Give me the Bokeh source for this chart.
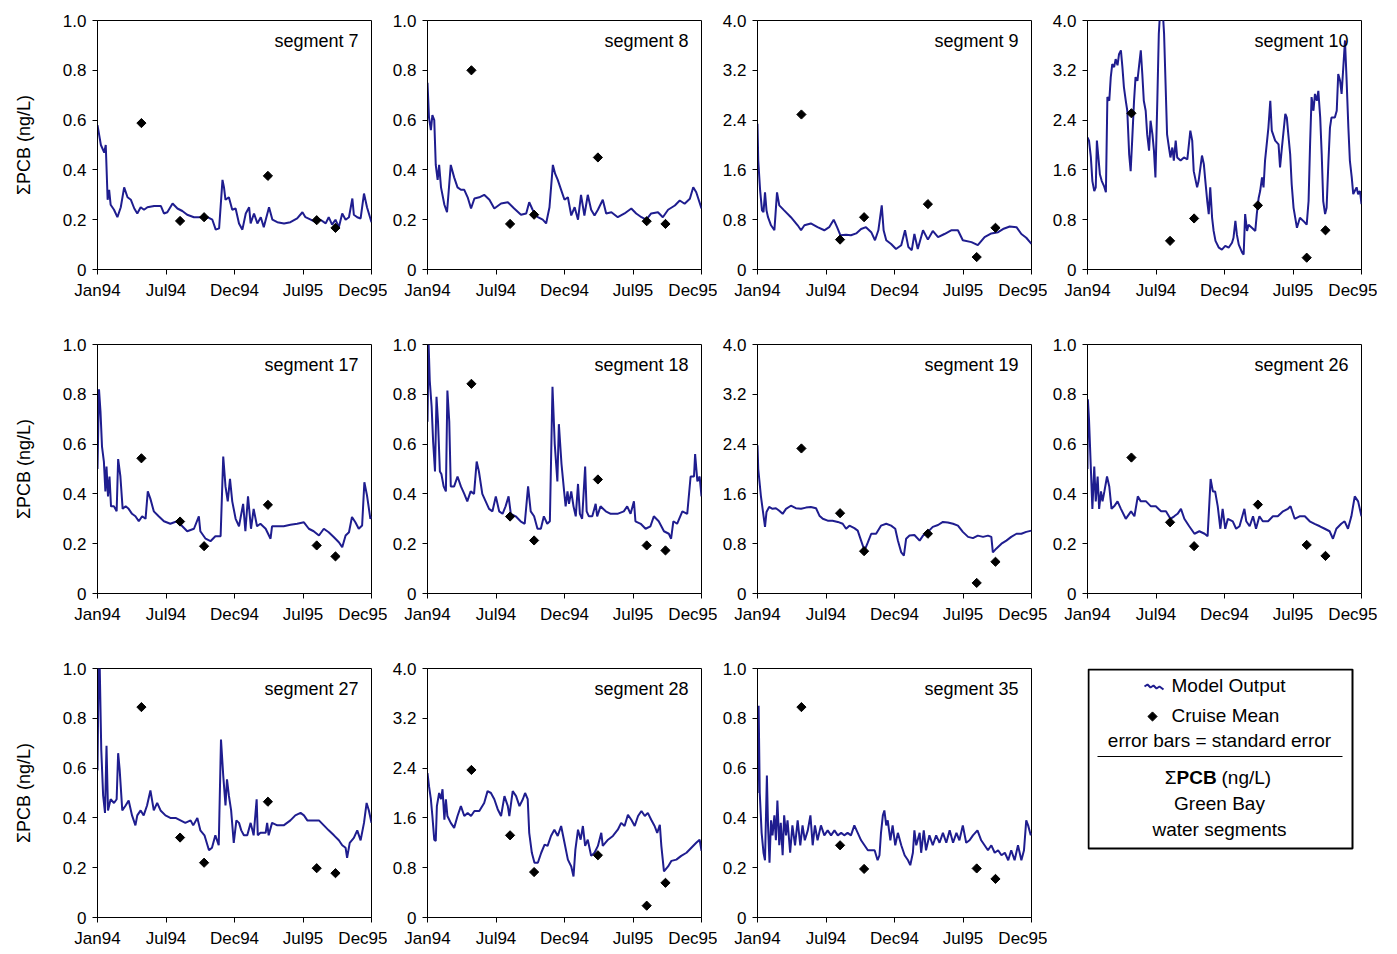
from math import pi
from bokeh.plotting import figure
from bokeh.layouts import row, column
from bokeh.models import Range1d, FixedTicker, Label, PrintfTickFormatter
from bokeh.embed import file_html
from bokeh.resources import INLINE

# ---------------- data ----------------
X_TICKS = [0, 182.5, 365, 547.5, 730]
X_TICK_LABELS = ["Jan94", "Jul94", "Dec94", "Jul95", "Dec95"]
CRUISE_DAYS = [117, 220, 284, 454, 584, 634]

SEG7_DAYS = [0, 9, 18, 22, 27, 31, 35, 44, 53, 62, 71, 80, 89, 98, 106, 115, 124, 133, 151, 169,
             177, 186, 200, 213, 226, 239, 257, 293, 306, 315, 324, 333, 337, 341, 350, 359, 368, 377, 386, 395,
             404, 408, 417, 426, 435, 443, 457, 466, 479, 497, 514, 532, 546, 554, 568, 581, 594, 608, 616, 625,
             634, 643, 652, 661, 670, 679, 683, 692, 701, 710, 718, 730]
SEG7_PCB = [0.58, 0.50, 0.47, 0.50, 0.28, 0.32, 0.26, 0.24, 0.21, 0.25, 0.33, 0.29, 0.28, 0.245, 0.225, 0.25, 0.24, 0.25, 0.255, 0.255,
            0.225, 0.23, 0.265, 0.245, 0.235, 0.22, 0.21, 0.21, 0.20, 0.16, 0.165, 0.36, 0.33, 0.28, 0.29, 0.24, 0.245, 0.185, 0.16, 0.225,
            0.25, 0.185, 0.225, 0.185, 0.21, 0.17, 0.25, 0.20, 0.19, 0.185, 0.19, 0.205, 0.23, 0.21, 0.20, 0.19, 0.20, 0.185, 0.21, 0.18,
            0.20, 0.17, 0.225, 0.20, 0.21, 0.285, 0.22, 0.21, 0.205, 0.305, 0.25, 0.19]
SEG7_CRUISE = [0.588, 0.195, 0.21, 0.376, 0.198, 0.167]

SEG8_DAYS = [0, 4, 9, 13, 18, 22, 27, 31, 36, 45, 52, 62, 71, 80, 89, 98, 107, 116, 125, 138,
             151, 165, 178, 196, 214, 231, 249, 263, 271, 280, 294, 307, 316, 325, 334, 340, 347, 356, 365, 374,
             383, 392, 401, 409, 418, 427, 436, 445, 454, 467, 476, 490, 507, 525, 543, 556, 570, 583, 596, 614,
             627, 641, 659, 672, 685, 699, 708, 716, 730]
SEG8_PCB = [0.75, 0.61, 0.56, 0.62, 0.60, 0.42, 0.36, 0.42, 0.33, 0.26, 0.23, 0.42, 0.37, 0.33, 0.32, 0.32, 0.29, 0.245, 0.285, 0.29,
            0.30, 0.28, 0.245, 0.265, 0.27, 0.245, 0.22, 0.225, 0.27, 0.24, 0.21, 0.20, 0.185, 0.25, 0.42, 0.385, 0.36, 0.32, 0.28, 0.29,
            0.217, 0.25, 0.20, 0.30, 0.217, 0.30, 0.24, 0.217, 0.24, 0.28, 0.225, 0.23, 0.21, 0.225, 0.245, 0.225, 0.21, 0.20, 0.225, 0.23,
            0.21, 0.24, 0.257, 0.277, 0.264, 0.284, 0.33, 0.31, 0.245]
SEG8_CRUISE = [0.80, 0.183, 0.22, 0.45, 0.194, 0.183]

SEG9_DAYS = [0, 2, 7, 12, 16, 20, 24, 28, 36, 45, 52, 58, 71, 89, 107, 116, 125, 142, 160, 178,
             191, 203, 212, 221, 236, 249, 263, 276, 289, 303, 313, 322, 331, 336, 343, 356, 369, 383, 393, 402,
             411, 418, 427, 441, 454, 467, 481, 498, 516, 534, 547, 570, 587, 605, 623, 641, 654, 672, 690, 703,
             716, 730]
SEG9_PCB = [2.34, 1.75, 1.27, 0.95, 0.92, 1.24, 0.95, 0.84, 0.71, 0.63, 1.24, 1.03, 0.95, 0.84, 0.71, 0.63, 0.71, 0.74, 0.68, 0.63,
            0.68, 0.80, 0.68, 0.55, 0.56, 0.55, 0.58, 0.65, 0.68, 0.60, 0.47, 0.63, 1.03, 0.63, 0.47, 0.41, 0.33, 0.39, 0.63, 0.36,
            0.31, 0.57, 0.33, 0.63, 0.48, 0.62, 0.52, 0.57, 0.63, 0.63, 0.47, 0.44, 0.39, 0.52, 0.58, 0.60, 0.65, 0.69, 0.68, 0.57,
            0.51, 0.41]
SEG9_CRUISE = [2.49, 0.48, 0.84, 1.05, 0.20, 0.67]

SEG10_DAYS = [0, 4, 9, 13, 18, 22, 25, 29, 33, 38, 44, 49, 53, 58, 62, 66, 71, 75, 80, 84,
              89, 93, 97, 102, 106, 111, 115, 119, 124, 128, 133, 137, 142, 146, 150, 155, 159, 164, 168, 173,
              177, 181, 186, 190, 195, 199, 204, 208, 212, 217, 221, 226, 230, 235, 239, 248, 257, 266, 274, 279,
              283, 292, 296, 305, 310, 314, 319, 323, 327, 332, 336, 341, 350, 358, 367, 376, 385, 389, 394, 398,
              403, 412, 416, 420, 425, 429, 438, 447, 451, 456, 460, 465, 469, 473, 482, 487, 491, 500, 509, 513,
              518, 527, 531, 535, 540, 544, 549, 558, 566, 575, 584, 589, 593, 597, 602, 606, 611, 615, 620, 624,
              628, 633, 637, 642, 646, 650, 659, 664, 668, 673, 677, 681, 686, 690, 695, 699, 704, 708, 712, 717,
              721, 726, 730]
SEG10_PCB = [2.12, 2.07, 1.80, 1.42, 1.26, 1.32, 2.07, 1.80, 1.53, 1.42, 1.34, 1.24, 2.77, 2.71, 3.09, 3.30, 3.25, 3.38, 3.28, 3.46,
             3.52, 3.25, 2.93, 2.71, 2.55, 1.85, 1.58, 2.07, 2.71, 3.09, 3.03, 3.25, 3.52, 3.14, 2.71, 2.55, 2.17, 1.91, 2.39, 2.17,
             1.91, 1.48, 2.71, 3.79, 4.30, 4.30, 3.79, 2.98, 2.17, 1.96, 1.80, 1.96, 1.75, 2.07, 1.80, 1.75, 1.80, 1.77, 2.23, 2.07,
             1.58, 1.32, 1.42, 1.83, 1.69, 1.42, 1.10, 0.89, 1.32, 0.83, 0.62, 0.46, 0.35, 0.32, 0.38, 0.35, 0.43, 0.51, 0.78, 0.56,
             0.40, 0.27, 0.24, 0.89, 0.62, 0.72, 0.67, 0.62, 0.89, 1.15, 1.26, 1.48, 1.32, 1.75, 2.28, 2.71, 2.23, 2.07, 2.01, 1.64,
             1.96, 2.50, 2.44, 2.17, 1.85, 1.37, 0.99, 0.67, 0.83, 0.78, 0.72, 1.10, 2.01, 2.77, 2.55, 2.82, 2.71, 2.87, 2.44, 1.85,
             1.10, 0.89, 0.99, 1.75, 2.28, 2.44, 2.44, 2.55, 3.14, 3.03, 2.82, 3.20, 3.68, 3.09, 2.28, 1.75, 1.48, 1.21, 1.26, 1.32,
             1.21, 1.26, 1.05]
SEG10_CRUISE = [2.51, 0.46, 0.82, 1.03, 0.19, 0.63]

SEG17_DAYS = [0, 4, 8, 12, 17, 21, 24, 28, 32, 36, 44, 51, 55, 61, 67, 75, 83, 92, 101, 110,
              119, 128, 134, 141, 150, 163, 177, 194, 212, 226, 239, 257, 270, 274, 288, 301, 314, 328, 335, 341,
              347, 353, 359, 368, 377, 388, 394, 401, 409, 416, 425, 434, 448, 461, 465, 479, 496, 514, 532, 550,
              563, 576, 590, 603, 616, 630, 643, 652, 661, 670, 678, 687, 696, 705, 711, 718, 727, 730]
SEG17_PCB = [0.50, 0.82, 0.73, 0.59, 0.53, 0.41, 0.51, 0.39, 0.47, 0.35, 0.35, 0.33, 0.54, 0.47, 0.34, 0.35, 0.34, 0.32, 0.31, 0.29,
             0.31, 0.30, 0.41, 0.38, 0.33, 0.31, 0.29, 0.28, 0.29, 0.27, 0.25, 0.26, 0.31, 0.25, 0.22, 0.21, 0.23, 0.23, 0.55, 0.43,
             0.37, 0.46, 0.37, 0.30, 0.27, 0.36, 0.25, 0.39, 0.26, 0.34, 0.27, 0.28, 0.26, 0.22, 0.27, 0.27, 0.27, 0.276, 0.28, 0.286,
             0.26, 0.25, 0.233, 0.26, 0.246, 0.226, 0.206, 0.186, 0.233, 0.246, 0.307, 0.286, 0.26, 0.273, 0.447, 0.394, 0.30, 0.31]
SEG17_CRUISE = [0.543, 0.289, 0.19, 0.356, 0.193, 0.149]

SEG18_DAYS = [0, 3, 6, 11, 15, 20, 24, 28, 33, 37, 43, 49, 53, 58, 62, 71, 80, 89, 98, 106,
              115, 124, 131, 137, 146, 155, 164, 173, 182, 191, 200, 208, 216, 222, 235, 248, 259, 268, 275, 284,
              293, 302, 310, 319, 326, 333, 339, 346, 350, 357, 364, 368, 373, 377, 383, 389, 395, 401, 406, 412,
              420, 424, 430, 439, 448, 452, 461, 475, 488, 506, 523, 532, 541, 550, 554, 568, 581, 594, 603, 616,
              630, 643, 649, 655, 665, 679, 692, 701, 710, 713, 719, 725, 730]
SEG18_PCB = [0.69, 1.0, 0.855, 0.75, 0.61, 0.49, 0.79, 0.69, 0.49, 0.48, 0.43, 0.41, 0.815, 0.69, 0.43, 0.43, 0.47, 0.43, 0.40, 0.37,
             0.41, 0.40, 0.53, 0.49, 0.40, 0.37, 0.34, 0.33, 0.39, 0.33, 0.32, 0.35, 0.39, 0.32, 0.31, 0.29, 0.28, 0.43, 0.33, 0.31,
             0.26, 0.26, 0.31, 0.28, 0.29, 0.83, 0.60, 0.45, 0.68, 0.52, 0.41, 0.35, 0.41, 0.36, 0.41, 0.35, 0.31, 0.44, 0.32, 0.30,
             0.51, 0.33, 0.31, 0.31, 0.36, 0.31, 0.35, 0.33, 0.32, 0.32, 0.33, 0.35, 0.32, 0.37, 0.29, 0.28, 0.26, 0.27, 0.31, 0.29,
             0.25, 0.24, 0.22, 0.29, 0.28, 0.33, 0.32, 0.47, 0.47, 0.56, 0.45, 0.47, 0.39]
SEG18_CRUISE = [0.842, 0.309, 0.213, 0.458, 0.193, 0.173]

SEG19_DAYS = [0, 2, 9, 16, 20, 24, 31, 40, 49, 58, 67, 76, 89, 102, 116, 129, 142, 156, 165, 174,
              187, 200, 214, 227, 236, 245, 258, 267, 276, 285, 294, 303, 316, 329, 343, 356, 367, 374, 383, 390,
              396, 405, 418, 432, 441, 454, 467, 481, 494, 507, 521, 534, 547, 561, 574, 587, 601, 614, 623, 627,
              636, 650, 663, 676, 690, 703, 716, 730]
SEG19_PCB = [2.38, 2.0, 1.57, 1.25, 1.07, 1.31, 1.39, 1.36, 1.37, 1.33, 1.28, 1.36, 1.41, 1.37, 1.36, 1.38, 1.39, 1.37, 1.25, 1.20,
             1.17, 1.17, 1.15, 1.12, 1.04, 1.09, 1.05, 1.01, 0.85, 0.69, 0.82, 0.96, 0.96, 1.09, 1.12, 1.09, 1.04, 0.85, 0.66, 0.61,
             0.88, 0.93, 0.94, 0.85, 0.93, 0.99, 1.07, 1.10, 1.15, 1.14, 1.12, 1.09, 0.99, 0.91, 0.89, 0.93, 0.91, 0.93, 0.91, 0.66,
             0.72, 0.80, 0.85, 0.91, 0.96, 0.96, 0.99, 1.01]
SEG19_CRUISE = [2.33, 1.29, 0.68, 0.96, 0.17, 0.51]

SEG26_DAYS = [0, 1, 4, 9, 13, 18, 22, 27, 31, 36, 40, 45, 52, 58, 64, 71, 80, 89, 102, 116,
              125, 134, 142, 156, 169, 182, 196, 209, 221, 231, 240, 249, 258, 271, 285, 298, 312, 320, 328, 334,
              340, 347, 354, 360, 367, 374, 387, 396, 405, 418, 423, 432, 441, 449, 458, 467, 481, 494, 507, 521,
              534, 541, 552, 565, 579, 592, 605, 619, 632, 645, 654, 663, 676, 685, 694, 703, 712, 721, 730]
SEG26_PCB = [0.50, 0.78, 0.70, 0.50, 0.34, 0.51, 0.37, 0.47, 0.34, 0.41, 0.37, 0.41, 0.47, 0.43, 0.34, 0.35, 0.37, 0.34, 0.30, 0.33,
             0.31, 0.39, 0.37, 0.37, 0.35, 0.35, 0.33, 0.33, 0.30, 0.31, 0.32, 0.34, 0.30, 0.27, 0.24, 0.25, 0.24, 0.23, 0.46, 0.41,
             0.41, 0.35, 0.26, 0.34, 0.26, 0.30, 0.29, 0.26, 0.27, 0.34, 0.29, 0.27, 0.31, 0.26, 0.31, 0.29, 0.29, 0.31, 0.31, 0.33,
             0.34, 0.35, 0.30, 0.31, 0.31, 0.29, 0.28, 0.27, 0.26, 0.25, 0.22, 0.26, 0.28, 0.29, 0.26, 0.31, 0.39, 0.37, 0.31]
SEG26_CRUISE = [0.546, 0.286, 0.19, 0.357, 0.195, 0.151]

SEG27_DAYS = [0, 3, 6, 10, 15, 20, 24, 28, 35, 44, 51, 55, 59, 66, 75, 83, 92, 101, 106, 115,
              123, 132, 141, 150, 159, 168, 181, 194, 208, 221, 234, 248, 255, 266, 274, 285, 297, 305, 314, 323,
              329, 335, 341, 345, 350, 356, 363, 370, 377, 383, 390, 399, 408, 416, 424, 427, 434, 448, 452, 456,
              465, 479, 496, 514, 527, 541, 550, 559, 576, 590, 603, 616, 630, 643, 652, 661, 665, 672, 683, 692,
              701, 710, 717, 723, 730]
SEG27_PCB = [0.59, 1.0, 1.0, 0.675, 0.49, 0.42, 0.69, 0.43, 0.475, 0.46, 0.475, 0.66, 0.595, 0.43, 0.45, 0.47, 0.41, 0.37, 0.41, 0.43,
             0.41, 0.45, 0.51, 0.43, 0.46, 0.43, 0.41, 0.40, 0.40, 0.39, 0.38, 0.39, 0.37, 0.40, 0.35, 0.33, 0.27, 0.28, 0.33, 0.29,
             0.715, 0.57, 0.45, 0.555, 0.49, 0.43, 0.30, 0.39, 0.38, 0.35, 0.33, 0.33, 0.38, 0.33, 0.475, 0.33, 0.34, 0.34, 0.38, 0.33,
             0.38, 0.37, 0.37, 0.39, 0.41, 0.42, 0.41, 0.39, 0.39, 0.39, 0.37, 0.35, 0.33, 0.31, 0.29, 0.28, 0.24, 0.30, 0.32, 0.35,
             0.31, 0.38, 0.46, 0.43, 0.38]
SEG27_CRUISE = [0.845, 0.321, 0.22, 0.465, 0.198, 0.178]

SEG28_DAYS = [0, 4, 9, 13, 18, 22, 25, 31, 36, 40, 45, 49, 53, 62, 71, 80, 89, 98, 107, 116,
              125, 138, 151, 160, 169, 178, 187, 196, 205, 214, 218, 227, 236, 245, 254, 260, 267, 271, 278, 285,
              294, 303, 312, 320, 329, 338, 347, 356, 365, 374, 383, 389, 394, 401, 408, 414, 420, 427, 436, 445,
              454, 463, 467, 481, 494, 507, 516, 525, 534, 543, 552, 561, 570, 579, 587, 596, 605, 612, 619, 623,
              630, 641, 650, 663, 676, 690, 703, 716, 725, 730]
SEG28_PCB = [2.32, 2.11, 1.90, 1.63, 1.25, 1.23, 1.79, 2.00, 1.90, 2.06, 1.57, 1.90, 1.63, 1.52, 1.44, 1.63, 1.79, 1.63, 1.68, 1.63,
             1.71, 1.71, 1.84, 2.03, 2.00, 1.90, 1.74, 1.63, 1.95, 1.79, 1.63, 2.03, 1.95, 1.79, 1.90, 2.00, 1.90, 1.36, 1.04, 0.88,
             0.88, 1.04, 1.17, 1.15, 1.31, 1.41, 1.31, 1.47, 1.20, 0.93, 0.82, 0.66, 1.09, 1.41, 1.25, 1.47, 1.15, 1.25, 0.99, 1.04,
             1.15, 1.36, 1.15, 1.25, 1.31, 1.41, 1.52, 1.47, 1.65, 1.57, 1.47, 1.63, 1.71, 1.63, 1.68, 1.57, 1.47, 1.36, 1.49, 1.15,
             0.74, 0.82, 0.91, 0.93, 0.99, 1.04, 1.12, 1.20, 1.25, 1.07]
SEG28_CRUISE = [2.37, 1.32, 0.73, 1.00, 0.19, 0.557]

SEG35_DAYS = [0, 1, 3, 6, 11, 16, 20, 25, 28, 32, 36, 40, 45, 49, 53, 58, 62, 67, 71, 76,
              80, 87, 93, 100, 107, 114, 120, 126, 134, 141, 147, 153, 160, 169, 178, 187, 196, 205, 214, 223,
              231, 240, 249, 258, 267, 276, 285, 294, 303, 312, 320, 325, 329, 334, 338, 343, 347, 354, 360, 367,
              374, 383, 392, 401, 407, 414, 418, 423, 432, 436, 443, 449, 458, 467, 476, 485, 494, 503, 512, 521,
              530, 538, 547, 556, 565, 574, 586, 596, 605, 614, 623, 632, 641, 650, 659, 668, 676, 685, 694, 703,
              710, 716, 721, 728, 730]
SEG35_PCB = [0.50, 0.835, 0.85, 0.50, 0.34, 0.26, 0.23, 0.57, 0.37, 0.22, 0.39, 0.33, 0.41, 0.31, 0.47, 0.29, 0.38, 0.25, 0.41, 0.33,
             0.39, 0.26, 0.37, 0.29, 0.39, 0.29, 0.37, 0.31, 0.35, 0.41, 0.29, 0.37, 0.31, 0.37, 0.33, 0.35, 0.33, 0.35, 0.33, 0.34,
             0.33, 0.34, 0.33, 0.37, 0.34, 0.31, 0.29, 0.27, 0.27, 0.27, 0.23, 0.25, 0.34, 0.41, 0.43, 0.37, 0.39, 0.31, 0.37, 0.29,
             0.34, 0.29, 0.25, 0.23, 0.21, 0.26, 0.35, 0.29, 0.34, 0.26, 0.35, 0.27, 0.33, 0.29, 0.33, 0.30, 0.34, 0.30, 0.35, 0.30,
             0.34, 0.31, 0.37, 0.30, 0.31, 0.33, 0.35, 0.31, 0.29, 0.27, 0.29, 0.26, 0.27, 0.25, 0.26, 0.23, 0.27, 0.23, 0.29, 0.23,
             0.27, 0.39, 0.37, 0.33, 0.34]
SEG35_CRUISE = [0.845, 0.29, 0.195, None, 0.197, 0.155]

PANELS = [
    [("segment 7", SEG7_DAYS, SEG7_PCB, SEG7_CRUISE, 1.0),
     ("segment 8", SEG8_DAYS, SEG8_PCB, SEG8_CRUISE, 1.0),
     ("segment 9", SEG9_DAYS, SEG9_PCB, SEG9_CRUISE, 4.0),
     ("segment 10", SEG10_DAYS, SEG10_PCB, SEG10_CRUISE, 4.0)],
    [("segment 17", SEG17_DAYS, SEG17_PCB, SEG17_CRUISE, 1.0),
     ("segment 18", SEG18_DAYS, SEG18_PCB, SEG18_CRUISE, 1.0),
     ("segment 19", SEG19_DAYS, SEG19_PCB, SEG19_CRUISE, 4.0),
     ("segment 26", SEG26_DAYS, SEG26_PCB, SEG26_CRUISE, 1.0)],
    [("segment 27", SEG27_DAYS, SEG27_PCB, SEG27_CRUISE, 1.0),
     ("segment 28", SEG28_DAYS, SEG28_PCB, SEG28_CRUISE, 4.0),
     ("segment 35", SEG35_DAYS, SEG35_PCB, SEG35_CRUISE, 1.0)],
]

# ---------------- style ----------------
FONT = "Liberation Sans"
LINE_COLOR = "#1f1d8f"
FRAME_W = 274
FRAME_H = 249
TOPS = [20, 12, 12]
BOTTOMS = [63, 63, 34]
LEFTS = [97, 40, 40, 40]
RIGHT = 16


def style_frame(p):
    p.xgrid.visible = False
    p.ygrid.visible = False
    p.background_fill_color = "white"
    p.border_fill_color = "white"


def make_panel(name, days, pcb, cruise, ymax, col, rowi):
    left = LEFTS[col]
    top = TOPS[rowi]
    bottom = BOTTOMS[rowi]
    p = figure(width=left + FRAME_W + RIGHT, height=top + FRAME_H + bottom,
               output_backend="svg", toolbar_location=None, title=None,
               x_range=Range1d(0, 730), y_range=Range1d(0, ymax),
               min_border_left=left, min_border_right=RIGHT,
               min_border_top=top, min_border_bottom=bottom)
    style_frame(p)
    p.outline_line_color = "black"
    p.outline_line_width = 1

    xa = p.xaxis[0]
    xa.ticker = FixedTicker(ticks=X_TICKS)
    xa.major_label_overrides = {t: l for t, l in zip(X_TICKS, X_TICK_LABELS)}
    xa.major_tick_out = 5
    xa.major_tick_in = 0
    xa.major_label_standoff = 6
    xa.major_label_text_font = FONT
    xa.major_label_text_font_size = "17px"
    xa.major_label_text_color = "black"
    xa.axis_line_color = "black"
    xa.major_tick_line_color = "black"

    ya = p.yaxis[0]
    yticks = [round(i * ymax / 5, 2) for i in range(6)]
    ya.ticker = FixedTicker(ticks=yticks)
    ya.formatter = PrintfTickFormatter(format="%.1f")
    ya.major_label_overrides = {0: "0"}
    ya.major_tick_out = 5
    ya.major_tick_in = 0
    ya.major_label_standoff = 6
    ya.major_label_text_font = FONT
    ya.major_label_text_font_size = "17px"
    ya.major_label_text_color = "black"
    ya.axis_line_color = "black"
    ya.major_tick_line_color = "black"
    if col == 0:
        ya.axis_label = "\u03a3PCB (ng/L)"
        ya.axis_label_text_font = FONT
        ya.axis_label_text_font_size = "18px"
        ya.axis_label_text_font_style = "normal"
        ya.axis_label_text_color = "black"
        ya.axis_label_standoff = 26

    p.line(days, pcb, line_color=LINE_COLOR, line_width=2)

    cx = [d for d, v in zip(CRUISE_DAYS, cruise) if v is not None]
    cy = [v for v in cruise if v is not None]
    p.scatter(cx, cy, marker="square", angle=pi / 4, size=6.5,
              fill_color="black", line_color="black")

    p.add_layout(Label(x=730 * (1 - 13 / FRAME_W), y=ymax * (1 - 20 / FRAME_H),
                       text=name, text_align="right", text_baseline="middle",
                       text_font=FONT, text_font_size="18px", text_color="black"))
    return p


def make_legend(col, rowi):
    left = LEFTS[col]
    top = TOPS[rowi]
    bottom = BOTTOMS[rowi]
    lg = figure(width=left + FRAME_W + RIGHT, height=top + FRAME_H + bottom,
                output_backend="svg", toolbar_location=None, title=None,
                x_axis_type=None, y_axis_type=None,
                x_range=Range1d(0, FRAME_W), y_range=Range1d(0, FRAME_H),
                min_border_left=left, min_border_right=RIGHT,
                min_border_top=top, min_border_bottom=bottom)
    style_frame(lg)
    lg.outline_line_color = None

    # legend box
    lg.quad(left=[1], right=[265], bottom=[69], top=[248],
            fill_color=None, line_color="black", line_width=2)

    def lab(x, y, text, align="center", style="normal"):
        lg.add_layout(Label(x=x, y=y, text=text, text_align=align, text_baseline="middle",
                            text_font=FONT, text_font_size="19px", text_font_style=style,
                            text_color="black"))

    # legend samples
    lg.line([57, 60, 63, 66, 69, 72, 76], [231, 233, 230, 232, 229, 231, 228],
            line_color=LINE_COLOR, line_width=2)
    lg.scatter([65], [201], marker="square", angle=pi / 4, size=6.5,
               fill_color="black", line_color="black")
    lab(84, 232, "Model Output", "left")
    lab(84, 202, "Cruise Mean", "left")
    lab(132, 177, "error bars = standard error")
    lg.line([10, 255], [161, 161], line_color="black", line_width=1)
    lab(89, 140, "\u03a3", "right")
    lab(89, 140, "PCB", "left", "bold")
    lab(134, 140, "(ng/L)", "left")
    lab(132, 114, "Green Bay")
    lab(132, 88, "water segments")
    return lg


rows = []
for ri, panel_row in enumerate(PANELS):
    figs = [make_panel(*spec, col=ci, rowi=ri) for ci, spec in enumerate(panel_row)]
    if ri == 2:
        figs.append(make_legend(3, ri))
    rows.append(row(*figs))

layout = column(*rows)
open("out.html", "w").write(file_html(layout, INLINE))
